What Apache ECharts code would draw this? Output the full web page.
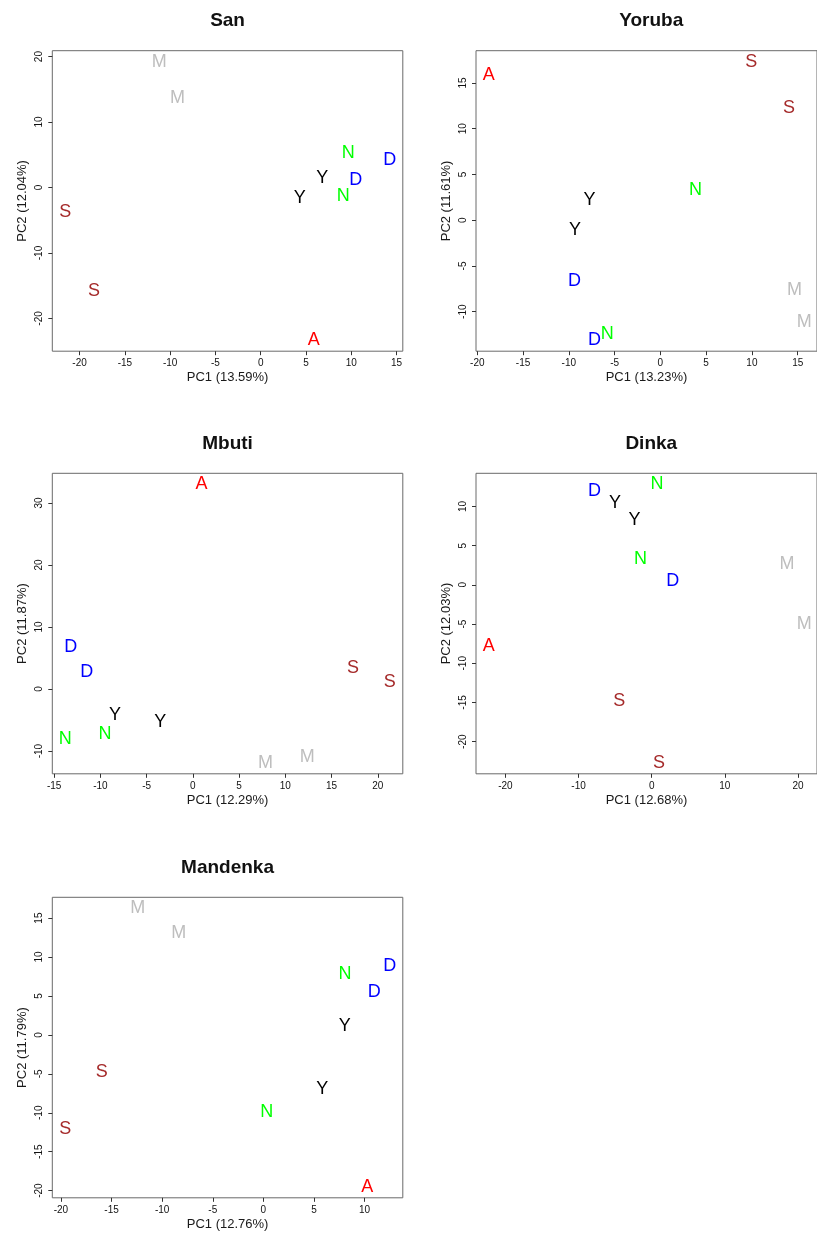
<!DOCTYPE html>
<html>
<head>
<meta charset="utf-8">
<script src="https://cdn.jsdelivr.net/npm/echarts@6/dist/echarts.min.js"></script>
<style>
html,body{margin:0;padding:0;background:#fff;overflow:hidden;}
#chart{width:817px;height:1235px;}
</style>
</head>
<body>
<div id="chart"></div>
<script>
// point labels (same order in every panel)
const groups = ['A','S','S','M','M','N','N','D','D','Y','Y'];
const groupColors = {A:'#FF0000', S:'#A52A2A', M:'#BEBEBE', N:'#00FF00', D:'#0000FF', Y:'#000000'};

const panelNames = ['San','Yoruba','Mbuti','Dinka','Mandenka'];
const pc1Pct = ['13.59%','13.23%','12.29%','12.68%','12.76%'];
const pc2Pct = ['12.04%','11.61%','11.87%','12.03%','11.79%'];

const sanPC1 = [5.84,-21.58,-18.4,-11.2,-9.2,9.66,9.1,14.25,10.5,6.79,4.3];
const sanPC2 = [-23.3,-3.7,-15.8,19.2,13.7,5.2,-1.3,4.14,1.09,1.5,-1.67];
const yorubaPC1 = [-18.76,9.94,14.05,14.64,15.73,3.85,-5.79,-9.37,-7.2,-7.74,-9.33];
const yorubaPC2 = [15.88,17.3,12.2,-7.62,-11.1,3.32,-12.47,-6.6,-13.1,2.15,-1.06];
const mbutiPC1 = [0.94,17.32,21.3,7.85,12.37,-13.8,-9.5,-13.22,-11.49,-8.42,-3.54];
const mbutiPC2 = [33.0,3.32,1.06,-11.87,-11.0,-8.1,-7.3,6.7,2.79,-4.2,-5.38];
const dinkaPC1 = [-22.3,-4.44,0.98,18.5,20.87,0.71,-1.55,-7.84,2.88,-5.01,-2.35];
const dinkaPC2 = [-7.83,-14.83,-22.68,2.70,-5.06,12.8,3.34,11.91,0.45,10.43,8.22];
const mandenkaPC1 = [10.26,-15.96,-19.57,-12.41,-8.37,8.06,0.34,12.49,10.95,8.03,5.82];
const mandenkaPC2 = [-19.49,-4.82,-12.09,16.24,13.13,7.87,-9.95,8.85,5.51,1.08,-6.96];

// tick labels
const sanXTicks = [-20,-15,-10,-5,0,5,10,15];
const sanYTicks = [-20,-10,0,10,20];
const yorubaXTicks = [-20,-15,-10,-5,0,5,10,15];
const yorubaYTicks = [-10,-5,0,5,10,15];
const mbutiXTicks = [-15,-10,-5,0,5,10,15,20];
const mbutiYTicks = [-10,0,10,20,30];
const dinkaXTicks = [-20,-10,0,10,20];
const dinkaYTicks = [-20,-15,-10,-5,0,5,10];
const mandenkaXTicks = [-20,-15,-10,-5,0,5,10];
const mandenkaYTicks = [-20,-15,-10,-5,0,5,10,15];

const pcX = [sanPC1, yorubaPC1, mbutiPC1, dinkaPC1, mandenkaPC1];
const pcY = [sanPC2, yorubaPC2, mbutiPC2, dinkaPC2, mandenkaPC2];
const xTicks = [sanXTicks, yorubaXTicks, mbutiXTicks, dinkaXTicks, mandenkaXTicks];
const yTicks = [sanYTicks, yorubaYTicks, mbutiYTicks, dinkaYTicks, mandenkaYTicks];

// layout
const colLeft = [52.3, 476];
const rowTop = [50.7, 473.3, 897.3];
const W = 350.5, H = 300.5;
const FONT = '"Liberation Sans", Arial, Helvetica, sans-serif';

function rRange(arr){
  const mn = Math.min(...arr), mx = Math.max(...arr);
  const r = mx - mn;
  return [mn - 0.04*r, mx + 0.04*r];
}

const grids = [], xAxes = [], yAxes = [], series = [], graphics = [];
panelNames.forEach((name, i) => {
  const left = colLeft[i % 2], top = rowTop[Math.floor(i / 2)];
  grids.push({left: left, top: top, width: W, height: H, show: true,
    borderColor: '#6a6a6a', borderWidth: 1, backgroundColor: 'transparent', containLabel: false});
  const xr = rRange(pcX[i]), yr = rRange(pcY[i]);
  xAxes.push({
    type: 'value', gridIndex: i, min: xr[0], max: xr[1], position: 'bottom',
    name: 'PC1 (' + pc1Pct[i] + ')', nameLocation: 'middle', nameGap: 20,
    nameTextStyle: {fontFamily: FONT, fontSize: 13, color: '#1a1a1a'},
    axisLine: {show: false, onZero: false},
    axisTick: {show: true, inside: false, length: 4, customValues: xTicks[i], lineStyle: {color: '#333', width: 1}},
    axisLabel: {show: true, margin: 7, customValues: xTicks[i], fontFamily: FONT, fontSize: 10, color: '#111', showMinLabel: true, showMaxLabel: true},
    splitLine: {show: false}
  });
  yAxes.push({
    type: 'value', gridIndex: i, min: yr[0], max: yr[1], position: 'left',
    name: 'PC2 (' + pc2Pct[i] + ')', nameLocation: 'middle', nameGap: 23,
    nameTextStyle: {fontFamily: FONT, fontSize: 13, color: '#1a1a1a'},
    axisLine: {show: false, onZero: false},
    axisTick: {show: true, inside: false, length: 4, customValues: yTicks[i], lineStyle: {color: '#333', width: 1}},
    axisLabel: {show: true, rotate: 90, margin: 8, customValues: yTicks[i], fontFamily: FONT, fontSize: 10, color: '#111', showMinLabel: true, showMaxLabel: true},
    splitLine: {show: false}
  });
  series.push({
    type: 'scatter', xAxisIndex: i, yAxisIndex: i,
    symbol: 'circle', symbolSize: 1, clip: false,
    itemStyle: {color: 'rgba(0,0,0,0)'},
    label: {show: true, position: 'inside', fontFamily: FONT, fontSize: 18, opacity: 1,
      textBorderWidth: 0, formatter: p => p.name},
    emphasis: {disabled: true},
    data: pcX[i].map((x, k) => ({
      name: groups[k], value: [x, pcY[i][k]],
      label: {color: groupColors[groups[k]]}
    }))
  });
  graphics.push({
    type: 'text', x: left + W / 2, y: top - 30,
    style: {text: name, fontFamily: FONT, fontSize: 19, fontWeight: 'bold',
      fill: '#111', textAlign: 'center', textVerticalAlign: 'middle'}
  });
});

const chart = echarts.init(document.getElementById('chart'), null, {renderer: 'canvas', width: 817, height: 1235});
chart.setOption({
  animation: false,
  backgroundColor: '#ffffff',
  grid: grids, xAxis: xAxes, yAxis: yAxes, series: series,
  graphic: graphics
});
</script>
</body>
</html>
